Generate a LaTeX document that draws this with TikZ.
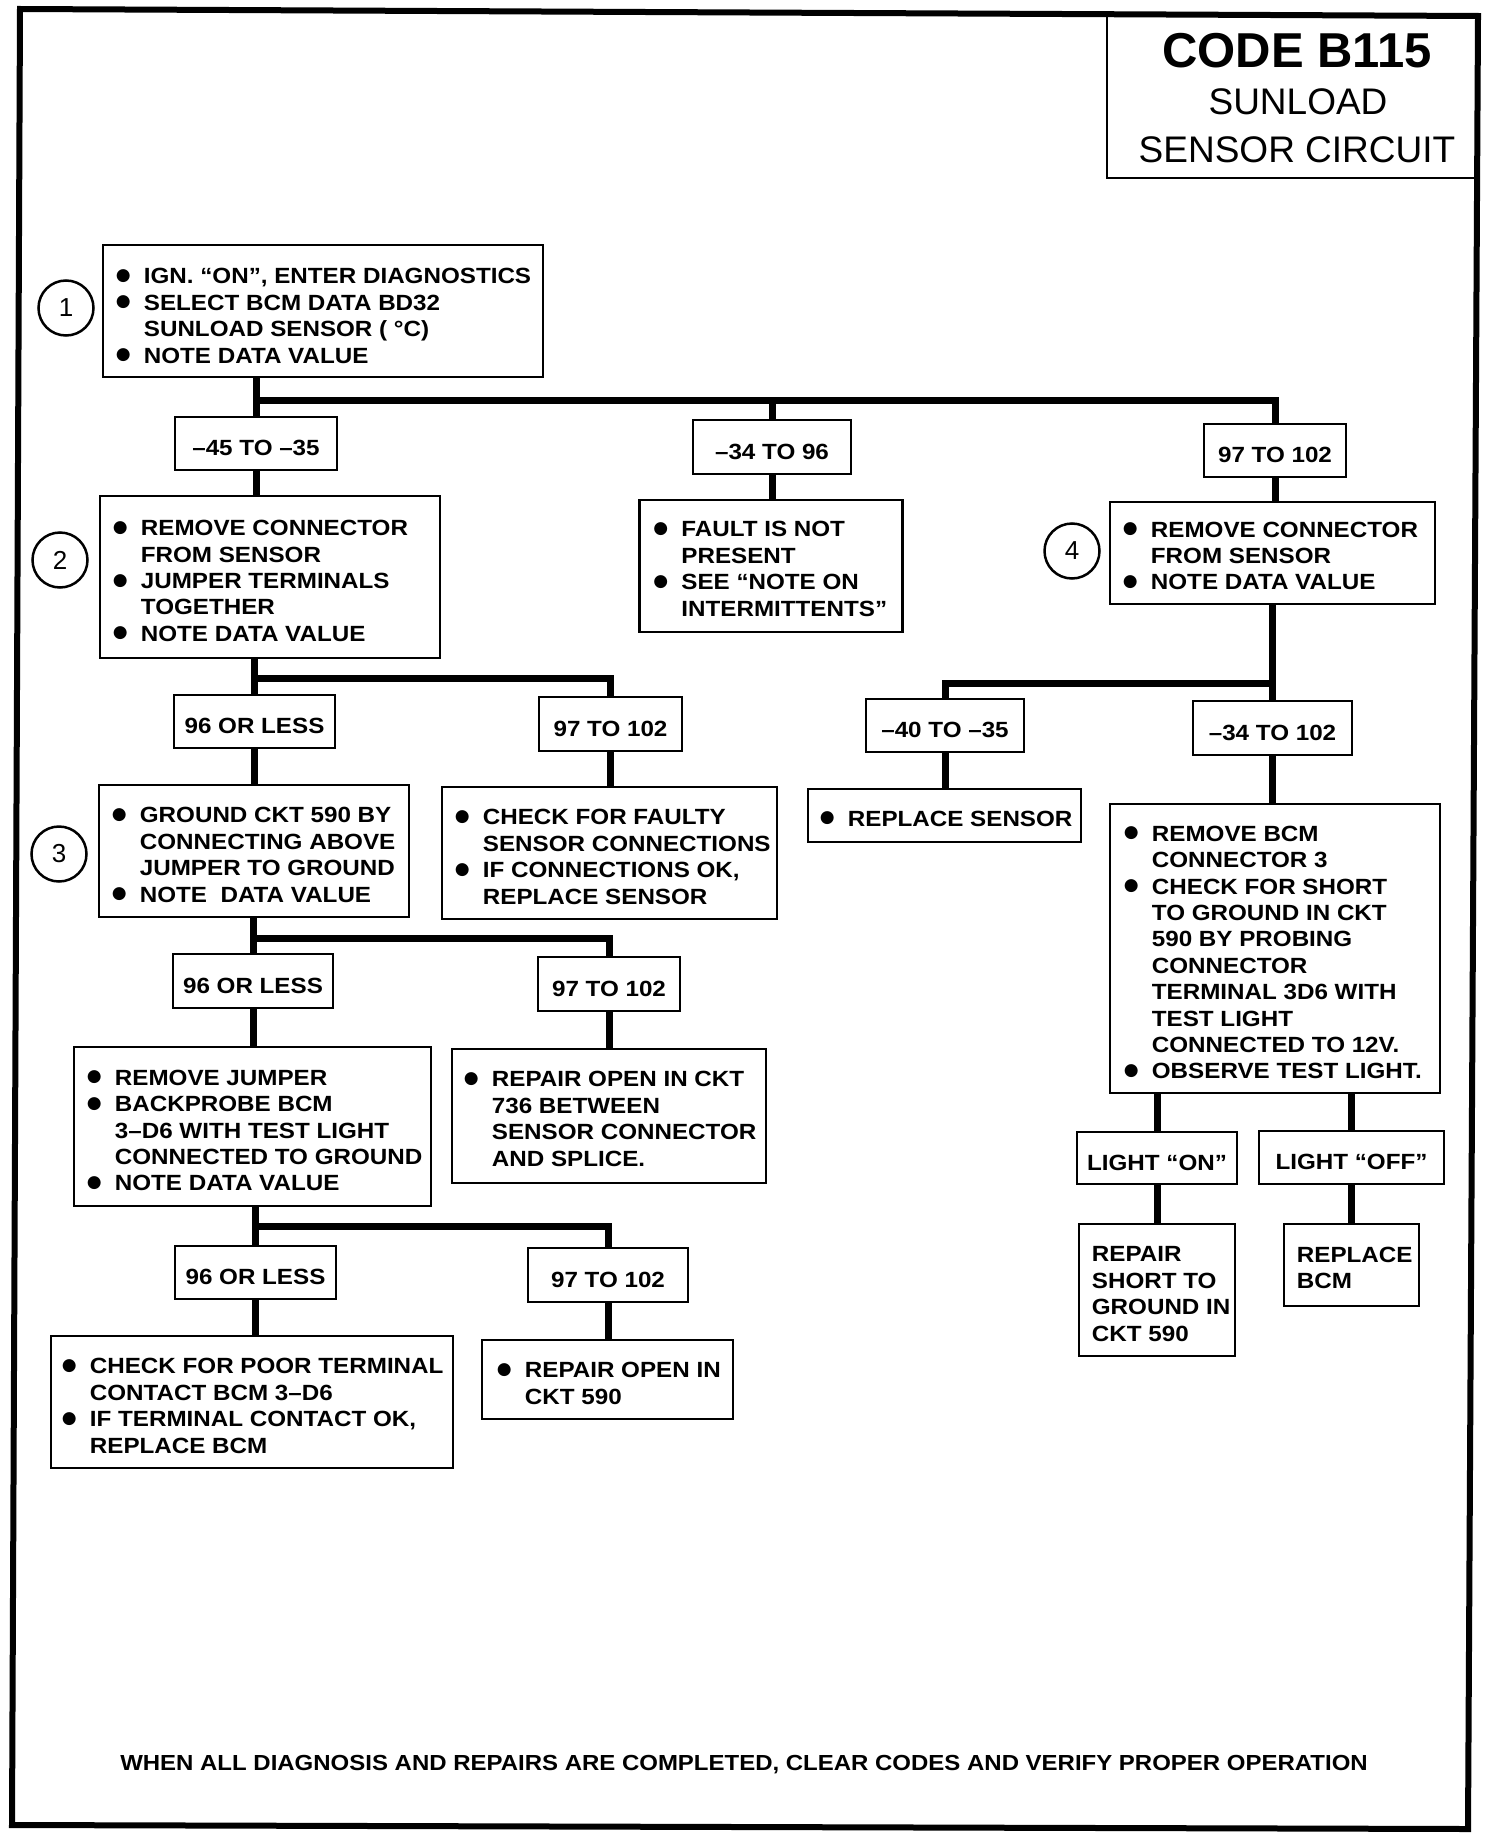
\documentclass[tikz,border=0pt]{standalone}
\usepackage{fontspec}
\setmainfont{Liberation Sans}
\newfontfamily\bodyf{Liberation Sans}[FakeStretch=1.1]
\newfontfamily\symf{DejaVu Sans}
\usetikzlibrary{backgrounds}
\newcommand\bul{\makebox[28pt][l]{\raisebox{3.5pt}{\symf\fontsize{17}{17}\selectfont ●}}}
\newcommand\ind{\hspace*{28pt}}
\begin{document}
\begin{tikzpicture}[x=1pt,y=-1pt,
  box/.style={draw, rectangle, line width=2.6pt, fill=white, inner sep=0pt},
  lab/.style={box, text height=24pt, text depth=0pt, font=\bodyf\bfseries\fontsize{22}{26}\selectfont},
  txt/.style={inner sep=0pt, align=left, anchor=west, font=\bodyf\bfseries\fontsize{22}{26.4}\selectfont},
  conn/.style={line width=7pt, line join=miter, line cap=rect},
  circ/.style={draw, circle, line width=2.5pt, minimum size=55pt, inner sep=0pt, font=\fontsize{26}{26}\selectfont}]
\useasboundingbox (0,0) rectangle (1504,1838);

% title
\node[box, minimum width=370pt, minimum height=162pt] (title) at (1292,97) {};
\node[font=\bfseries\fontsize{49}{49}\selectfont, anchor=base, inner sep=0pt] (tcode) at (1297,68) {CODE B115};
\node[font=\fontsize{37}{37}\selectfont, anchor=base, inner sep=0pt] (tsun) at (1298,115) {SUNLOAD};
\node[font=\fontsize{37}{37}\selectfont, anchor=base, inner sep=0pt] (tsen) at (1297,163) {SENSOR CIRCUIT};

% step 1
\node[box, minimum width=440pt, minimum height=132pt] (b1) at (323,311) {};
\node[txt] (b1t) at ([xshift=14pt,yshift=-5pt]b1.west) {\bul IGN. “ON”, ENTER DIAGNOSTICS\\ \bul SELECT BCM DATA BD32\\ \ind SUNLOAD SENSOR ( °C)\\ \bul NOTE DATA VALUE};
\node[circ] (c1) at (66,308) {1};

% first branch labels
\node[lab, minimum width=162pt, minimum height=53pt] (l45) at (256,443.5) {–45 TO –35};
\node[lab, minimum width=158pt, minimum height=54pt] (l34) at (772,447) {–34 TO 96};
\node[lab, minimum width=142pt, minimum height=53pt] (l97a) at (1275,450.5) {97 TO 102};

% step 2
\node[box, minimum width=340pt, minimum height=162pt] (b2) at (270,577) {};
\node[txt] (b2t) at ([xshift=14pt,yshift=-4pt]b2.west) {\bul REMOVE CONNECTOR\\ \ind FROM SENSOR\\ \bul JUMPER TERMINALS\\ \ind TOGETHER\\ \bul NOTE DATA VALUE};
\node[circ] (c2) at (60,560) {2};

\node[box, minimum width=263pt, minimum height=132pt] (bf) at (771,566) {};
\node[txt] (bft) at ([xshift=15pt,yshift=-3pt]bf.west) {\bul FAULT IS NOT\\ \ind PRESENT\\ \bul SEE “NOTE ON\\ \ind INTERMITTENTS”};

% step 4
\node[box, minimum width=325pt, minimum height=102pt] (b4) at (1272.5,553) {};
\node[txt] (b4t) at ([xshift=14pt,yshift=-3pt]b4.west) {\bul REMOVE CONNECTOR\\ \ind FROM SENSOR\\ \bul NOTE DATA VALUE};
\node[circ] (c4) at (1072,551) {4};

% second level labels
\node[lab, minimum width=161pt, minimum height=53pt] (l96a) at (254.5,721.5) {96 OR LESS};
\node[lab, minimum width=143pt, minimum height=54pt] (l97b) at (610.5,724) {97 TO 102};
\node[lab, minimum width=158pt, minimum height=53pt] (l40) at (945,725.5) {–40 TO –35};
\node[lab, minimum width=159pt, minimum height=54pt] (l34b) at (1272.5,728) {–34 TO 102};

% step 3
\node[box, minimum width=310pt, minimum height=132pt] (b3) at (254,851) {};
\node[txt] (b3t) at ([xshift=14pt,yshift=-4pt]b3.west) {\bul GROUND CKT 590 BY\\ \ind CONNECTING ABOVE\\ \ind JUMPER TO GROUND\\ \bul NOTE\ \ DATA VALUE};
\node[circ] (c3) at (59,854) {3};

\node[box, minimum width=335pt, minimum height=132pt] (bcf) at (609.5,853) {};
\node[txt] (bcft) at ([xshift=14pt,yshift=-4pt]bcf.west) {\bul CHECK FOR FAULTY\\ \ind SENSOR CONNECTIONS\\ \bul IF CONNECTIONS OK,\\ \ind REPLACE SENSOR};

\node[box, minimum width=273pt, minimum height=53pt] (brs) at (944.5,815.5) {};
\node[txt] (brst) at ([xshift=13pt,yshift=-3pt]brs.west) {\bul REPLACE SENSOR};

\node[box, minimum width=330pt, minimum height=289pt] (bbcm) at (1275,948.5) {};
\node[txt] (bbcmt) at ([xshift=15pt,yshift=-4pt]bbcm.west) {\bul REMOVE BCM\\ \ind CONNECTOR 3\\ \bul CHECK FOR SHORT\\ \ind TO GROUND IN CKT\\ \ind 590 BY PROBING\\ \ind CONNECTOR\\ \ind TERMINAL 3D6 WITH\\ \ind TEST LIGHT\\ \ind CONNECTED TO 12V.\\ \bul OBSERVE TEST LIGHT.};

% third level
\node[lab, minimum width=160pt, minimum height=54pt] (l96b) at (253,981) {96 OR LESS};
\node[lab, minimum width=142pt, minimum height=54pt] (l97c) at (609,984) {97 TO 102};

\node[box, minimum width=357pt, minimum height=159pt] (brj) at (252.5,1126.5) {};
\node[txt] (brjt) at ([xshift=14pt,yshift=-4pt]brj.west) {\bul REMOVE JUMPER\\ \bul BACKPROBE BCM\\ \ind 3–D6 WITH TEST LIGHT\\ \ind CONNECTED TO GROUND\\ \bul NOTE DATA VALUE};

\node[box, minimum width=314pt, minimum height=134pt] (bro) at (609,1116) {};
\node[txt] (brot) at ([xshift=13pt,yshift=-3pt]bro.west) {\bul REPAIR OPEN IN CKT\\ \ind 736 BETWEEN\\ \ind SENSOR CONNECTOR\\ \ind AND SPLICE.};

\node[lab, minimum width=160pt, minimum height=52pt] (lon) at (1157,1158) {LIGHT “ON”};
\node[lab, minimum width=185pt, minimum height=53pt] (loff) at (1351.5,1157.5) {LIGHT “OFF”};

% fourth level
\node[lab, minimum width=161pt, minimum height=53pt] (l96c) at (255.5,1272.5) {96 OR LESS};
\node[lab, minimum width=160pt, minimum height=54pt] (l97d) at (608,1275) {97 TO 102};

\node[box, minimum width=402pt, minimum height=132pt] (bcp) at (252,1402) {};
\node[txt] (bcpt) at ([xshift=12pt,yshift=-4pt]bcp.west) {\bul CHECK FOR POOR TERMINAL\\ \ind CONTACT BCM 3–D6\\ \bul IF TERMINAL CONTACT OK,\\ \ind REPLACE BCM};

\node[box, minimum width=251pt, minimum height=79pt] (bro2) at (607.5,1379.5) {};
\node[txt] (bro2t) at ([xshift=16pt,yshift=-4pt]bro2.west) {\bul REPAIR OPEN IN\\ \ind CKT 590};

\node[box, minimum width=156pt, minimum height=132pt] (brsh) at (1157,1290) {};
\node[txt] (brsht) at ([xshift=14pt,yshift=-4pt]brsh.west) {REPAIR\\ SHORT TO\\ GROUND IN\\ CKT 590};

\node[box, minimum width=135pt, minimum height=82pt] (brb) at (1351.5,1265) {};
\node[txt] (brbt) at ([xshift=14pt,yshift=-3pt]brb.west) {REPLACE\\ BCM};

% footer
\node[inner sep=0pt, anchor=base, font=\bodyf\bfseries\fontsize{21.8}{26}\selectfont] (foot) at (744,1770) {WHEN ALL DIAGNOSIS AND REPAIRS ARE COMPLETED, CLEAR CODES AND VERIFY PROPER OPERATION};

% connectors
\coordinate (y1) at (0,400);
\coordinate (y2) at (0,678);
\coordinate (y3) at (0,683);
\coordinate (y4) at (0,938);
\coordinate (y5) at (0,1226);
\begin{pgfonlayer}{background}
\draw[conn] (l45 |- b1.south) -- (l45.north);
\draw[conn] (l45 |- y1) -| (l97a.north);
\draw[conn] (l34 |- y1) -- (l34.north);
\draw[conn] (l45.south) -- (l45 |- b2.north);
\draw[conn] (l34.south) -- (l34 |- bf.north);
\draw[conn] (l97a.south) -- (l97a |- b4.north);

\draw[conn] (l96a |- b2.south) -- (l96a.north);
\draw[conn] (l96a |- y2) -| (l97b.north);
\draw[conn] (l96a.south) -- (l96a |- b3.north);
\draw[conn] (l97b.south) -- (l97b |- bcf.north);

\draw[conn] (l34b |- b4.south) -- (l34b.north);
\draw[conn] (l34b |- y3) -| (l40.north);
\draw[conn] (l40.south) -- (l40 |- brs.north);
\draw[conn] (l34b.south) -- (l34b |- bbcm.north);

\draw[conn] (l96b |- b3.south) -- (l96b.north);
\draw[conn] (l96b |- y4) -| (l97c.north);
\draw[conn] (l96b.south) -- (l96b |- brj.north);
\draw[conn] (l97c.south) -- (l97c |- bro.north);

\draw[conn] (l96c |- brj.south) -- (l96c.north);
\draw[conn] (l96c |- y5) -| (l97d.north);
\draw[conn] (l96c.south) -- (l96c |- bcp.north);
\draw[conn] (l97d.south) -- (l97d |- bro2.north);

\draw[conn] (lon |- bbcm.south) -- (lon.north);
\draw[conn] (loff |- bbcm.south) -- (loff.north);
\draw[conn] (lon.south) -- (lon |- brsh.north);
\draw[conn] (loff.south) -- (loff |- brb.north);
\end{pgfonlayer}

% outer frame
\draw[line width=6pt, line join=miter] (20,9) -- (1478,16) -- (1468,1829) -- (12,1825) -- cycle;
\end{tikzpicture}
\end{document}
